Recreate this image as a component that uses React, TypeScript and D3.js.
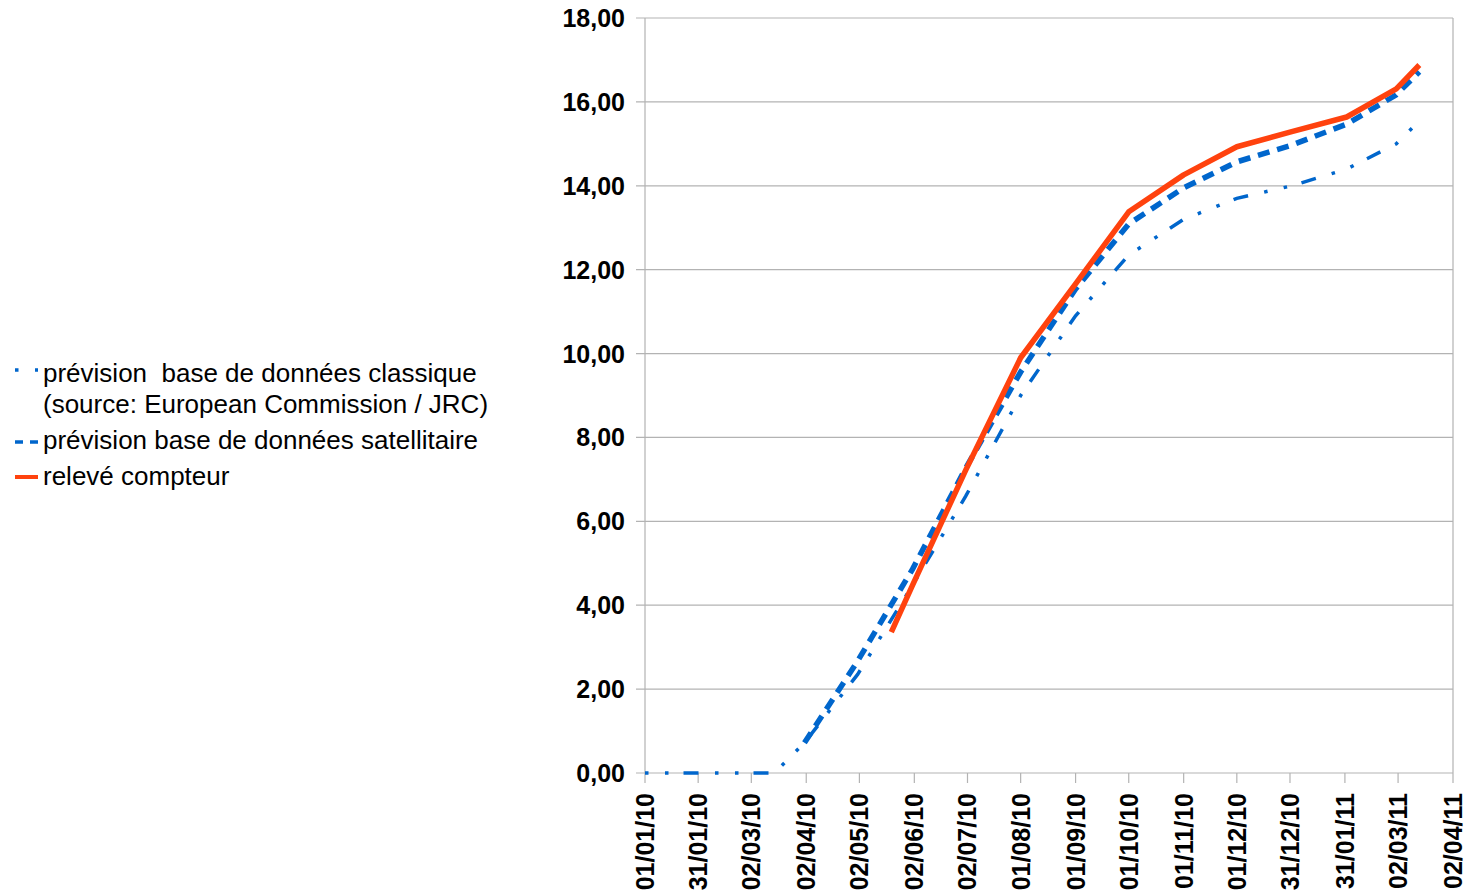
import React from 'react';
import * as d3 from 'd3';

const tickLabels = ["01/01/10","31/01/10","02/03/10","02/04/10","02/05/10","02/06/10","02/07/10","01/08/10","01/09/10","01/10/10","01/11/10","01/12/10","31/12/10","31/01/11","02/03/11","02/04/11"];
const yTicks = [0, 2, 4, 6, 8, 10, 12, 14, 16, 18];

const classicDates = ["01/01/10","01/02/10","01/03/10","15/03/10","01/04/10","01/05/10","01/06/10","01/07/10","01/08/10","01/09/10","01/10/10","01/11/10","01/12/10","01/01/11","01/02/11","01/03/11","14/03/11"];
const classicValues = [0, 0, 0, 0, 0.72, 2.35, 4.48, 6.6, 9.0, 10.9, 12.35, 13.2, 13.7, 14.0, 14.4, 15.0, 15.55];

const satelliteDates = ["01/04/10","01/05/10","01/06/10","01/07/10","01/08/10","01/09/10","01/10/10","01/11/10","01/12/10","01/01/11","01/02/11","01/03/11","14/03/11"];
const satelliteValues = [0.72, 2.67, 4.86, 7.27, 9.56, 11.54, 13.09, 13.95, 14.57, 14.97, 15.47, 16.17, 16.72];

const meterDates = ["20/05/10","01/06/10","01/07/10","01/08/10","01/09/10","01/10/10","01/11/10","01/12/10","01/01/11","01/02/11","01/03/11","14/03/11"];
const meterValues = [3.36, 4.48, 7.22, 9.9, 11.66, 13.38, 14.26, 14.93, 15.29, 15.64, 16.31, 16.88];

const legendLabels = [
  ["prévision  base de données classique", "(source: European Commission / JRC)"],
  ["prévision base de données satellitaire"],
  ["relevé compteur"],
];

const parse = (s: string) => {
  const [d, m, y] = s.split('/').map(Number);
  return new Date(Date.UTC(2000 + y, m - 1, d));
};

const BLUE = '#0066cc';
const RED = '#ff420e';
const GRID = '#b3b3b3';
const FONT = '"Liberation Sans", Arial, sans-serif';

export default function App() {
  const left = 645, right = 1453, top = 18, bottom = 773;
  const x = d3.scaleUtc().domain([parse(tickLabels[0]), parse(tickLabels[tickLabels.length - 1])]).range([left, right]);
  const y = d3.scaleLinear().domain([0, 18]).range([bottom, top]);
  const line = d3.line<[Date, number]>().x(d => x(d[0])).y(d => y(d[1]));
  const mk = (ds: string[], vs: number[]) => ds.map((d, i) => [parse(d), vs[i]] as [Date, number]);

  return (
    <svg width={1468} height={896} style={{ position: 'absolute', left: 0, top: 0, background: '#fff' }} fontFamily={FONT}>
      <rect x={0} y={0} width={1468} height={896} fill="#fff" />
      {yTicks.map(t => (
        <g key={t}>
          <line x1={left - 9} x2={right} y1={y(t)} y2={y(t)} stroke={GRID} strokeWidth={1.2} />
          <text x={625} y={y(t)} dy="0.36em" textAnchor="end" fontSize={25} fontWeight="bold" fill="#000">
            {t.toFixed(2).replace('.', ',')}
          </text>
        </g>
      ))}
      <line x1={left} x2={left} y1={top} y2={bottom} stroke={GRID} strokeWidth={1.2} />
      <line x1={right} x2={right} y1={top} y2={bottom} stroke={GRID} strokeWidth={1.2} />
      {tickLabels.map(l => {
        const xx = x(parse(l));
        return (
          <g key={l}>
            <line x1={xx} x2={xx} y1={bottom} y2={bottom + 10} stroke={GRID} strokeWidth={1.2} />
            <text transform={`translate(${xx},793) rotate(-90)`} dy="0.36em" textAnchor="end" fontSize={25} fontWeight="bold" fill="#000">{l}</text>
          </g>
        );
      })}
      <path d={line(mk(classicDates, classicValues)) || ''} fill="none" stroke={BLUE} strokeWidth={3.5} strokeDasharray="3.5,16.5,3.5,15,15,16.5" />
      <path d={line(mk(satelliteDates, satelliteValues)) || ''} fill="none" stroke={BLUE} strokeWidth={5.5} strokeDasharray="12,8" />
      <path d={line(mk(meterDates, meterValues)) || ''} fill="none" stroke={RED} strokeWidth={5.5} strokeLinejoin="round" />

      <g fontSize={26} fill="#000">
        <line x1={15} x2={38} y1={370} y2={370} stroke={BLUE} strokeWidth={3.5} strokeDasharray="3.5,16.5,3.5" />
        <text x={43} y={382} style={{ whiteSpace: 'pre' }}>{legendLabels[0][0]}</text>
        <text x={43} y={413} style={{ whiteSpace: 'pre' }}>{legendLabels[0][1]}</text>
        <line x1={15} x2={38} y1={442} y2={442} stroke={BLUE} strokeWidth={3.5} strokeDasharray="8,7,8" />
        <text x={43} y={449}>{legendLabels[1][0]}</text>
        <line x1={15} x2={38} y1={477} y2={477} stroke={RED} strokeWidth={4} />
        <text x={43} y={485}>{legendLabels[2][0]}</text>
      </g>
    </svg>
  );
}
